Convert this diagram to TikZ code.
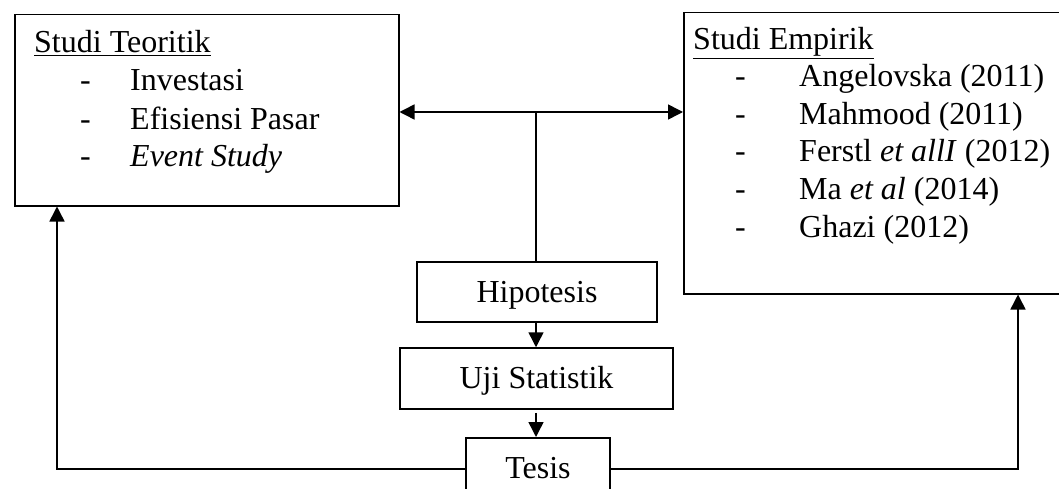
\documentclass[tikz,border=0pt]{standalone}
\usepackage{fontspec}
\setmainfont{Liberation Serif}
\usetikzlibrary{arrows.meta}
\tikzset{
  box/.style={draw, line width=1.5pt, inner sep=0pt},
  cbox/.style={box, font=\fontsize{32}{38}\selectfont, text height=28pt, text depth=8pt},
  txt/.style={anchor=base west, inner sep=0pt, font=\fontsize{32}{38}\selectfont},
  ln/.style={line width=1.5pt},
  arr/.style={line width=1.5pt, -{Triangle[length=15pt,width=15pt]}},
  darr/.style={line width=1.5pt, {Triangle[length=15pt,width=15pt]}-{Triangle[length=15pt,width=15pt]}}
}
\begin{document}
\begin{tikzpicture}[x=1pt,y=-1pt]
\path[use as bounding box] (0,0) rectangle (1059,489);
\clip (0,0) rectangle (1059,489);
% boxes
\node[box, minimum width=384pt, minimum height=191pt, anchor=north west] (teo) at (14,14) {};
\node[box, minimum width=400pt, minimum height=281pt, anchor=north west] (emp) at (683,12) {};
\node[cbox, minimum width=240pt, minimum height=60pt] (hip) at (537,292) {Hipotesis};
\node[cbox, minimum width=273pt, minimum height=61pt] (uji) at (536.5,378.5) {Uji Statistik};
\node[cbox, minimum width=144pt, minimum height=62pt, anchor=north] (tes) at (538,437) {Tesis};
% left box text
\node[txt] (teoT) at (34,53) {\underline{Studi Teoritik}};
\node[txt] (teoD1) at (80,91) {-};
\node[txt] (teoD2) at (80,130) {-};
\node[txt] (teoD3) at (80,167) {-};
\node[txt] (teo1) at (130,91) {Investasi};
\node[txt] (teo2) at (130,130) {Efisiensi Pasar};
\node[txt] (teo3) at (130,167) {\textit{Event Study}};
% right box text
\node[txt] (empT) at (693,50) {\underline{Studi Empirik}};
\node[txt] (empD1) at (735,87) {-};
\node[txt] (empD2) at (735,125) {-};
\node[txt] (empD3) at (735,162) {-};
\node[txt] (empD4) at (735,200) {-};
\node[txt] (empD5) at (735,237) {-};
\node[txt] (emp1) at (799,87) {Angelovska (2011)};
\node[txt] (emp2) at (799,125) {Mahmood (2011)};
\node[txt] (emp3) at (799,162) {Ferstl \textit{et allI} (2012)};
\node[txt] (emp4) at (799,200) {Ma \textit{et al} (2014)};
\node[txt] (emp5) at (799,237) {Ghazi (2012)};
% connectors
\coordinate (j) at (536,112);
\coordinate (l) at (57,0);
\coordinate (r) at (1018,0);
\draw[darr] (teo.east |- j) -- (emp.west |- j);
\draw[ln] (j) -- (j |- hip.north);
\draw[arr] (hip.south -| j) -- (uji.north -| j);
\draw[arr, shorten <=3pt] (uji.south -| j) -- (tes.north -| j);
\draw[arr] (tes.west) -| (teo.south -| l);
\draw[arr] (tes.east) -| (emp.south -| r);
\end{tikzpicture}
\end{document}
